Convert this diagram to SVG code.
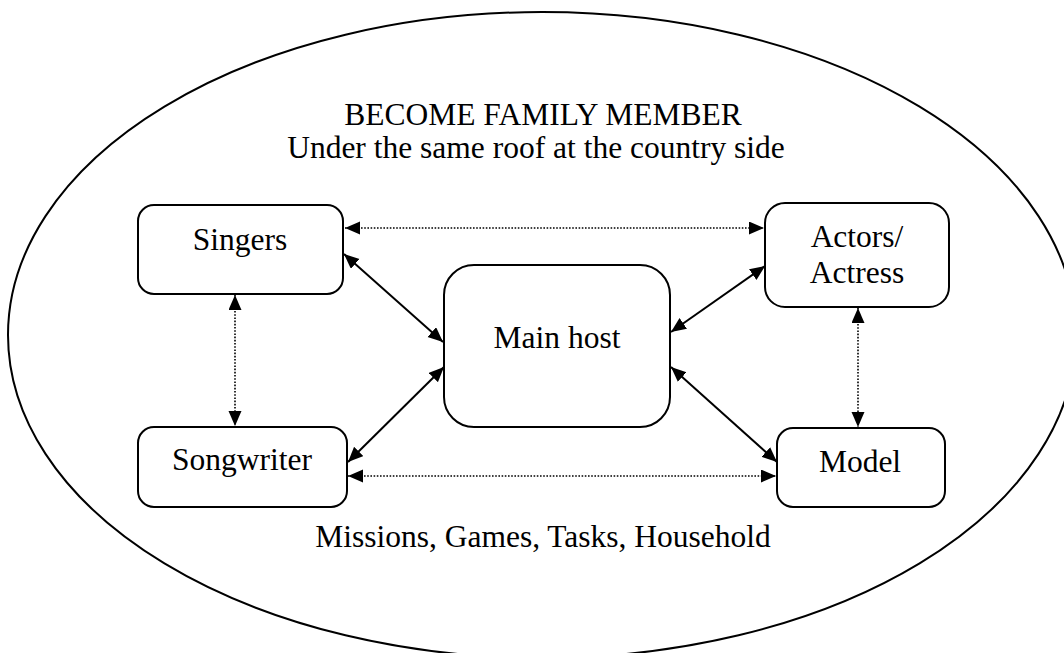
<svg xmlns="http://www.w3.org/2000/svg" width="1064" height="653" viewBox="0 0 1064 653" font-family="'Liberation Serif', 'Times New Roman', Times, serif">
  <style>
    .box { fill: #ffffff; stroke: #000000; stroke-width: 2; }
    text { font-family: 'Liberation Serif', 'Times New Roman', Times, serif; font-size: 31.5px; fill: #000000; text-anchor: middle; }
    .solid { stroke: #000000; stroke-width: 2; fill: none; marker-start: url(#arrow); marker-end: url(#arrow); }
    .dotted { stroke: #000000; stroke-width: 1.6; stroke-dasharray: 1.6 1.6; fill: none; marker-start: url(#arrow); marker-end: url(#arrow); }
  </style>
  <defs>
    <marker id="arrow" markerUnits="userSpaceOnUse" markerWidth="16" markerHeight="14" refX="15" refY="6.5" orient="auto-start-reverse">
      <path d="M0,0 L15,6.5 L0,13 Z" fill="#000000"/>
    </marker>
  </defs>

  <rect width="1064" height="653" fill="#ffffff"/>

  <!-- outer boundary -->
  <ellipse cx="542" cy="335" rx="534" ry="323" fill="none" stroke="#000000" stroke-width="2"/>

  <!-- captions -->
  <text x="543" y="125">BECOME FAMILY MEMBER</text>
  <text x="536" y="158">Under the same roof at the country side</text>
  <text x="543" y="547">Missions, Games, Tasks, Household</text>

  <!-- connectors -->
  <g id="connectors">
    <line class="dotted" x1="345" y1="228" x2="764" y2="228"/>
    <line class="dotted" x1="235" y1="295" x2="235" y2="426"/>
    <line class="dotted" x1="858" y1="308" x2="858" y2="427"/>
    <line class="dotted" x1="348" y1="476" x2="776" y2="476"/>
    <line class="solid" x1="344" y1="254" x2="443" y2="342"/>
    <line class="solid" x1="444" y1="367" x2="348" y2="462"/>
    <line class="solid" x1="671" y1="332" x2="765" y2="266"/>
    <line class="solid" x1="671" y1="367" x2="777" y2="462"/>
  </g>

  <g id="singers">
    <rect class="box" x="138" y="205" width="205" height="89" rx="16"/>
    <text x="240" y="250">Singers</text>
  </g>

  <g id="main-host">
    <rect class="box" x="444" y="265" width="226" height="162" rx="30"/>
    <text x="557" y="348">Main host</text>
  </g>

  <g id="actors">
    <rect class="box" x="765" y="203" width="184" height="104" rx="20"/>
    <text x="857" y="247">Actors/</text>
    <text x="857" y="283">Actress</text>
  </g>

  <g id="songwriter">
    <rect class="box" x="138" y="427" width="209" height="80" rx="16"/>
    <text x="242" y="470">Songwriter</text>
  </g>

  <g id="model">
    <rect class="box" x="777" y="428" width="168" height="79" rx="16"/>
    <text x="860" y="472">Model</text>
  </g>
</svg>
